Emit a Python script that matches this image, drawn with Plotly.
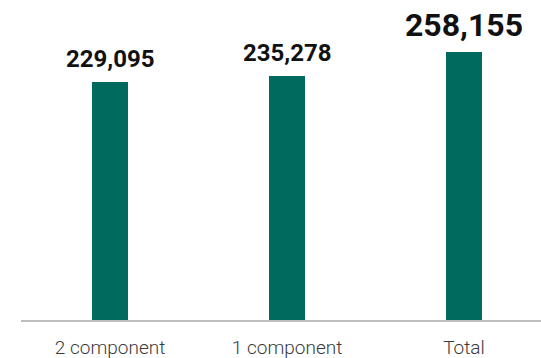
import plotly.graph_objects as go

# Counts by component type
categories = ["2 component", "1 component", "Total"]
values = [229095, 235278, 258155]
value_labels = ["229,095", "235,278", "258,155"]
label_sizes = [24, 24, 32]

BAR_COLOR = "#016a5f"

fig = go.Figure(
    go.Bar(
        x=categories,
        y=values,
        marker=dict(color=BAR_COLOR, line=dict(width=0)),
        width=0.203,
        hoverinfo="skip",
    )
)

# Bold value labels above each bar
for cat, val, txt, size in zip(categories, values, value_labels, label_sizes):
    fig.add_annotation(
        x=cat,
        y=val,
        text=f"<b>{txt}</b>",
        showarrow=False,
        xanchor="center",
        yanchor="bottom",
        yshift=7 if size < 30 else 6,
        font=dict(family="Roboto", size=size, color="#111111"),
    )

fig.update_layout(
    width=541,
    height=358,
    margin=dict(l=21, r=0, t=0, b=38),
    paper_bgcolor="white",
    plot_bgcolor="white",
    showlegend=False,
    bargap=0,
    xaxis=dict(
        type="category",
        range=[-0.503, 2.435],
        showgrid=False,
        zeroline=False,
        showline=True,
        linecolor="#bdbdbd",
        linewidth=2,
        ticks="",
        ticklabelstandoff=9,
        tickfont=dict(family="Roboto", size=19, color="#3a3a3a", weight=300),
        fixedrange=True,
    ),
    yaxis=dict(
        range=[0, 308600],
        visible=False,
        showgrid=False,
        zeroline=False,
        fixedrange=True,
    ),
)

fig.write_html("out.html")
